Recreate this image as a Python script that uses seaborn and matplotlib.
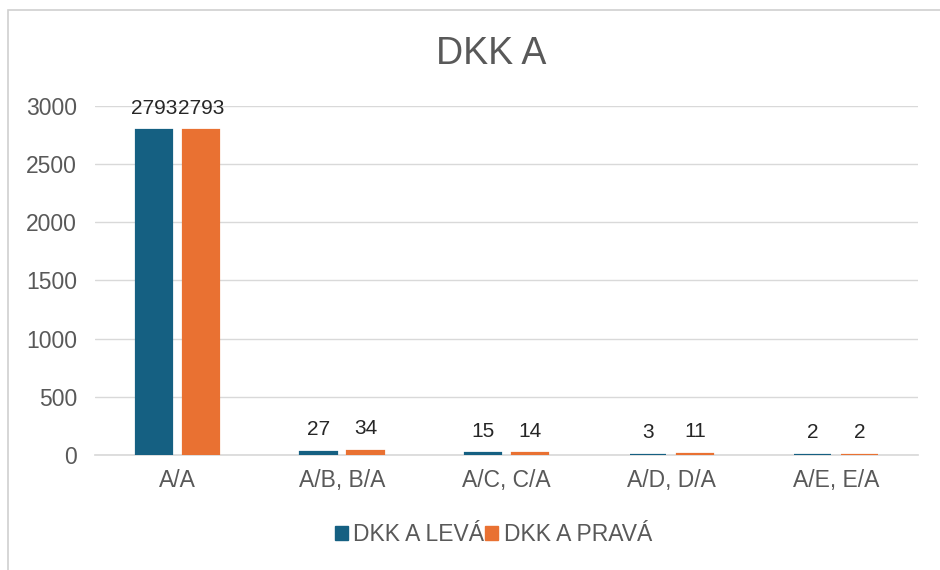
import matplotlib.pyplot as plt
import matplotlib.patches as mpatches
import pandas as pd
import seaborn as sns

categories = ["A/A", "A/B, B/A", "A/C, C/A", "A/D, D/A", "A/E, E/A"]
leva = [2793, 27, 15, 3, 2]
prava = [2793, 34, 14, 11, 2]
series = ["DKK A LEVÁ", "DKK A PRAVÁ"]
colors = ["#156082", "#E97132"]

df = pd.DataFrame({
    "kategorie": categories * 2,
    "pocet": leva + prava,
    "serie": [series[0]] * len(categories) + [series[1]] * len(categories),
})

sns.set_theme(style="white")
plt.rcParams['font.family'] = ['Liberation Sans', 'DejaVu Sans']

fig = plt.figure(figsize=(9.4, 5.7), dpi=100)
ax = fig.add_axes([0.101, 0.202, 0.876, 0.612])

sns.barplot(data=df, x="kategorie", y="pocet", hue="serie", palette=colors,
            saturation=1, width=0.571, gap=0.23, ax=ax, legend=False)

# okraj v barve sloupce, aby byly i male hodnoty videt (a nad osou)
for cont, c in zip(ax.containers, colors):
    for bar in cont:
        bar.set_edgecolor(c)
        bar.set_linewidth(1.6)
        bar.set_zorder(3)
    ax.bar_label(cont, padding=9, fontsize=15, color="#262626")

ax.set_ylim(0, 3000)
ax.set_yticks(range(0, 3001, 500))
ax.yaxis.grid(True, color="#d9d9d9", linewidth=1)
ax.set_axisbelow(True)
for s in ["top", "right", "left"]:
    ax.spines[s].set_visible(False)
ax.spines["bottom"].set_color("#d9d9d9")
ax.spines["bottom"].set_zorder(0.5)
ax.tick_params(axis="both", length=0, labelsize=16.5, labelcolor="#595959")
ax.tick_params(axis="x", pad=10)
ax.tick_params(axis="y", pad=13)
ax.set_xlabel("")
ax.set_ylabel("")
ax.set_title("DKK A", fontsize=27, color="#595959", pad=30, x=0.481)

handles = [mpatches.Patch(color=c, label=s) for c, s in zip(colors, series)]
fig.legend(handles=handles, loc="center", bbox_to_anchor=(0.525, 0.062), ncol=2,
           frameon=False, fontsize=16.5, handlelength=0.55, handleheight=0.55,
           handletextpad=0.25, columnspacing=0.05, labelcolor="#595959")

fig.patches.append(mpatches.Rectangle((8 / 940, -0.1), 1.2, 1.1 - 10 / 570,
                                      transform=fig.transFigure, fill=False,
                                      edgecolor="#d0d0d0", linewidth=1.2))

fig.savefig("out.png", dpi=100)
